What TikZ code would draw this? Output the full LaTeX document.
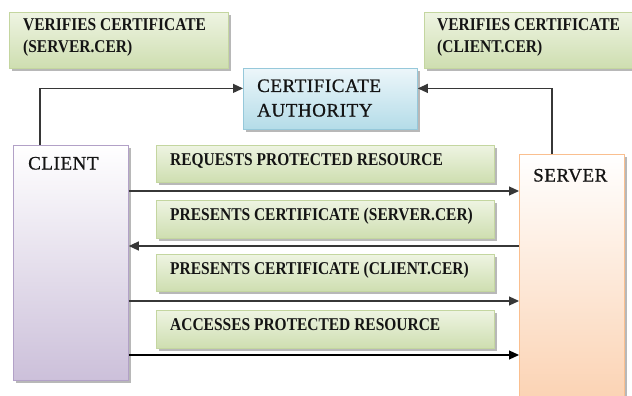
\documentclass[tikz,border=0pt]{standalone}
\usepackage{fontspec}
\setmainfont{Liberation Serif}
\newfontfamily\capfont{Liberation Serif}[FakeStretch=0.86]
\newfontfamily\headfont{Liberation Serif}[FakeBold=0.8,LetterSpace=3]
\usetikzlibrary{shadows,arrows.meta}

\definecolor{grnTop}{RGB}{238,244,226}
\definecolor{grnBot}{RGB}{206,222,176}
\definecolor{grnLine}{RGB}{196,214,160}
\definecolor{bluTop}{RGB}{236,246,250}
\definecolor{bluBot}{RGB}{180,220,232}
\definecolor{bluLine}{RGB}{150,200,218}
\definecolor{vioBot}{RGB}{204,192,218}
\definecolor{vioLine}{RGB}{178,161,199}
\definecolor{orgBot}{RGB}{251,210,178}
\definecolor{orgLine}{RGB}{250,191,143}
\definecolor{ink}{RGB}{20,20,20}
\definecolor{wire}{RGB}{55,55,55}

\begin{document}
\begin{tikzpicture}[x=1pt,y=-1pt,
  panel/.style={draw, line width=0.8pt, inner sep=0pt, anchor=north west,
    drop shadow={shadow xshift=2.5pt, shadow yshift=-2.5pt, fill=black, opacity=0.28}},
  greenbox/.style={panel, draw=grnLine, top color=grnTop, bottom color=grnBot},
  bluebox/.style={panel, draw=bluLine, top color=bluTop, bottom color=bluBot},
  clientbox/.style={panel, draw=vioLine, top color=white, bottom color=vioBot},
  serverbox/.style={panel, draw=orgLine, top color=white, bottom color=orgBot},
  lbl/.style={anchor=base west, inner sep=0pt, text=ink,
    font=\capfont\bfseries\fontsize{18}{20}\selectfont},
  ttl/.style={anchor=base west, inner sep=0pt, text=ink,
    font=\headfont\fontsize{19}{22}\selectfont},
  conn/.style={draw=wire, line width=1.2pt, -{Triangle[length=10pt,width=9pt]}},
]
\clip (0,0) rectangle (632,396);
\fill[white] (0,0) rectangle (632,396);

% verification notes
\node[greenbox, minimum width=219pt, minimum height=56pt] (vleft) at (9,12) {};
\node[greenbox, minimum width=220pt, minimum height=56pt] (vright) at (424,12) {};

% certificate authority
\node[bluebox, minimum width=174pt, minimum height=61pt] (ca) at (243,68) {};

% client and server lanes
\node[clientbox, minimum width=115pt, minimum height=235pt] (client) at (13,145) {};
\node[serverbox, minimum width=105pt, minimum height=250pt] (server) at (519,154) {};

% message labels
\node[greenbox, minimum width=338pt, minimum height=37pt] (r1) at (156,145) {};
\node[greenbox, minimum width=338pt, minimum height=38pt] (r2) at (156,200) {};
\node[greenbox, minimum width=338pt, minimum height=37pt] (r3) at (156,254) {};
\node[greenbox, minimum width=338pt, minimum height=38pt] (r4) at (156,310) {};

% texts
\node[lbl] (vl1) at (23,31) {VERIFIES CERTIFICATE};
\node[lbl] (vl2) at (23,52.5) {(SERVER.CER)};
\node[lbl] (vr1) at (437,31) {VERIFIES CERTIFICATE};
\node[lbl] (vr2) at (437,52.5) {(CLIENT.CER)};
\node[ttl] (ca1) at (257,92) {CERTIFICATE};
\node[ttl] (ca2) at (257,116.5) {AUTHORITY};
\node[ttl] (cl) at (28,169.5) {CLIENT};
\node[ttl] (sv) at (533,181.5) {SERVER};
\node[lbl] (m1) at (170,165.5) {REQUESTS PROTECTED RESOURCE};
\node[lbl] (m2) at (170,220.5) {PRESENTS CERTIFICATE (SERVER.CER)};
\node[lbl] (m3) at (170,274.5) {PRESENTS CERTIFICATE (CLIENT.CER)};
\node[lbl] (m4) at (170,330.5) {ACCESSES PROTECTED RESOURCE};

% links to the authority
\coordinate (cltop) at (40,145);
\coordinate (svtop) at (552,154);
\draw[conn] (cltop) |- ([yshift=10.5pt]ca.west);
\draw[conn] (svtop) |- ([yshift=10.5pt]ca.east);

% message arrows
\coordinate (a1) at (0,191);
\coordinate (a2) at (0,246);
\coordinate (a3) at (0,301);
\coordinate (a4) at (0,355);
\draw[conn] (client.east |- a1) -- (server.west |- a1);
\draw[conn] (server.west |- a2) -- (client.east |- a2);
\draw[conn] (client.east |- a3) -- (server.west |- a3);
\draw[conn, draw=black] (client.east |- a4) -- (server.west |- a4);
\end{tikzpicture}
\end{document}
